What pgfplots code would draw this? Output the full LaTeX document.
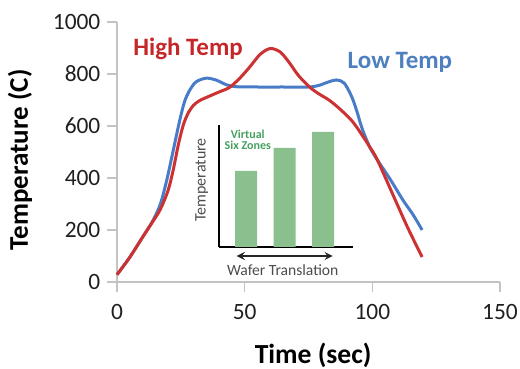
\documentclass[border=0pt]{standalone}
\usepackage{fontspec}
\setmainfont{Carlito}
\usepackage{pgfplots}
\pgfplotsset{compat=1.18}
\definecolor{cred}{RGB}{204,50,50}
\definecolor{cblue}{RGB}{72,124,200}
\definecolor{tred}{RGB}{196,38,42}
\definecolor{tblue}{RGB}{78,128,192}
\definecolor{bargreen}{RGB}{137,192,141}
\definecolor{txtgreen}{RGB}{70,160,95}
\definecolor{axgray}{RGB}{195,195,195}
\begin{document}
\begin{tikzpicture}
\begin{axis}[
  scale only axis, width=191.5pt, height=130pt,
  xmin=0, xmax=150, ymin=0, ymax=1000,
  axis x line=bottom, axis y line=left,
  axis line style={axgray, line width=0.6pt, -},
  xtick={0,50,100,150}, ytick={0,200,400,600,800,1000},
  tick align=outside,
  major tick length=4.8pt,
  tick style={axgray, line width=0.6pt},
  ticklabel style={font=\fontsize{11.7}{12}\selectfont, text=black!88},
  /pgf/number format/assume math mode=true,
  /pgf/number format/1000 sep={},
  scaled ticks=false,
  xticklabel style={yshift=-3pt},
  xlabel={Time (sec)}, ylabel={Temperature (C)},
  every axis x label/.style={at={(axis description cs:0.512,-0.281)},anchor=center,font=\fontsize{13.8}{14}\selectfont\bfseries},
  every axis y label/.style={at={(axis description cs:-0.253,0.47)},rotate=90,anchor=center,font=\fontsize{13.5}{14}\selectfont\bfseries},
  clip=false,
]
\addplot[cblue, line width=1.5pt, smooth] coordinates {
(0,28) (5,95) (10,172) (14,235) (17,300) (19.5,392) (22,505) (24.6,623) (26.5,695) (28.5,738) (31,770) (35,784) (39,776) (43,758) (47,751) (55,750) (65,750) (75,750) (79,756) (83,770) (86,777) (89,765) (92,711) (94,655) (96,590) (99,519) (102,469) (107,395) (112,315) (116,258) (119.5,200)
};
\addplot[cred, line width=1.5pt, smooth] coordinates {
(0,28) (5,95) (10,172) (14,232) (17,280) (20,352) (22,430) (24,527) (26,605) (28,652) (30,680) (32.4,698) (36,714) (40,731) (44,748) (48,783) (52,827) (56,875) (60,898) (64,884) (67.6,842) (71,795) (75.4,750) (79,724) (83,700) (87,668) (92,620) (96,565) (99,519) (102,469) (109,315) (114,206) (119.5,96)
};
\node[anchor=base west, font=\fontsize{12.5}{13}\selectfont\bfseries, text=tred, inner sep=0pt] at (axis cs:6.25,873) {High Temp};
\node[anchor=base west, font=\fontsize{12.5}{13}\selectfont\bfseries, text=tblue, inner sep=0pt] at (axis cs:90.2,823) {Low Temp};
\coordinate (M0) at (rel axis cs:0,0);
\coordinate (I0) at (axis cs:39.84,134.6);
\end{axis}
\begin{axis}[
  at={(I0)}, anchor=south west,
  scale only axis, width=67pt, height=61pt,
  xmin=0.286, xmax=3.766, ymin=0, ymax=122,
  axis x line=bottom, axis y line=left,
  axis line style={black, line width=1.2pt, -},
  ticks=none, ybar, bar width=11pt, clip=false,
]
\addplot[fill=bargreen, draw=none] coordinates {(1,76) (2,99) (3,115)};
\draw[<->, >=stealth, line width=0.8pt, black!85] (axis cs:0.753,-9) -- (axis cs:3.247,-9);
\node[font=\fontsize{7.8}{8}\selectfont, text=black!70] at (axis cs:1.948,-23) {Wafer Translation};
\node[rotate=90, font=\fontsize{8}{8}\selectfont, text=black!70] at ([xshift=-8.5pt]rel axis cs:0,0.55) {Temperature};
\node[align=center, font=\fontsize{6}{5.5}\selectfont\bfseries, text=txtgreen, inner sep=0pt] at (axis cs:1.04,107) {Virtual\\Six Zones};
\end{axis}
\pgfresetboundingbox
\path[use as bounding box] ([shift={(-58.5pt,-43.5pt)}]M0) rectangle ([shift={(201.5pt,141pt)}]M0);
\end{tikzpicture}
\end{document}
